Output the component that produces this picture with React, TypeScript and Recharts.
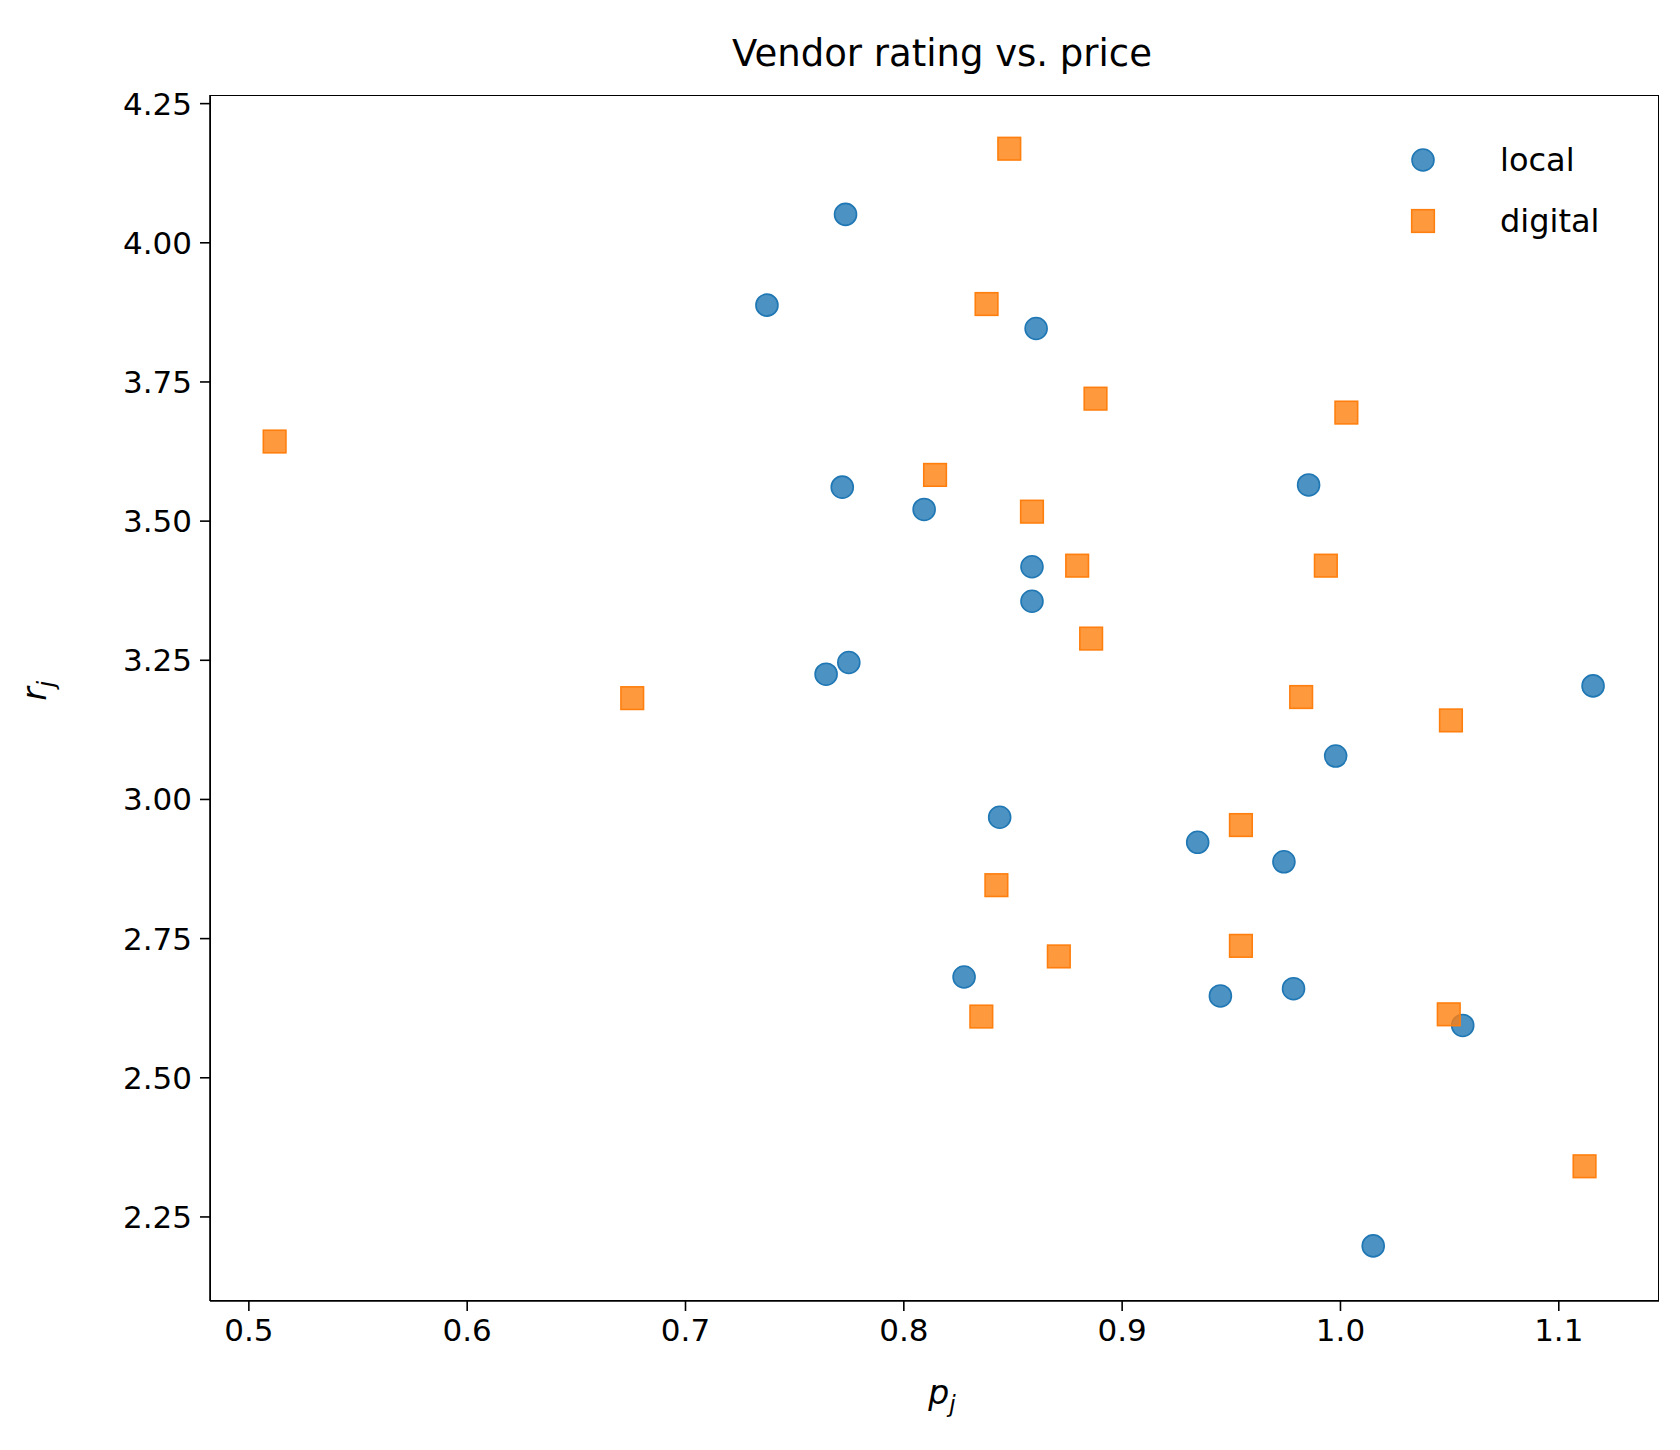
import React from "react";
import { ScatterChart, Scatter, XAxis, YAxis } from "recharts";

const localData = [
  { p: 0.7373, r: 3.888 }, { p: 0.7733, r: 4.051 }, { p: 0.8606, r: 3.846 },
  { p: 0.7718, r: 3.561 }, { p: 0.8093, r: 3.521 }, { p: 0.8587, r: 3.418 },
  { p: 0.8587, r: 3.356 }, { p: 0.7644, r: 3.225 }, { p: 0.7748, r: 3.246 },
  { p: 0.9854, r: 3.565 }, { p: 1.1157, r: 3.204 }, { p: 0.9978, r: 3.078 },
  { p: 0.8439, r: 2.968 }, { p: 0.9346, r: 2.923 }, { p: 0.9741, r: 2.888 },
  { p: 0.8276, r: 2.681 }, { p: 0.945, r: 2.647 }, { p: 0.9785, r: 2.66 },
  { p: 1.056, r: 2.594 }, { p: 1.015, r: 2.198 },
];
const digitalData = [
  { p: 0.8483, r: 4.169 }, { p: 0.5118, r: 3.643 }, { p: 0.8379, r: 3.89 },
  { p: 0.8878, r: 3.72 }, { p: 1.0027, r: 3.695 }, { p: 0.8143, r: 3.583 },
  { p: 0.8587, r: 3.517 }, { p: 0.8794, r: 3.42 }, { p: 0.9933, r: 3.42 },
  { p: 0.8858, r: 3.289 }, { p: 0.6756, r: 3.182 }, { p: 0.982, r: 3.184 },
  { p: 1.0506, r: 3.142 }, { p: 0.9544, r: 2.954 }, { p: 0.8424, r: 2.846 },
  { p: 0.871, r: 2.718 }, { p: 0.9544, r: 2.737 }, { p: 0.8355, r: 2.61 },
  { p: 1.0496, r: 2.614 }, { p: 1.1118, r: 2.341 },
];
const xTicks = [0.5, 0.6, 0.7, 0.8, 0.9, 1.0, 1.1];
const yTicks = [2.25, 2.5, 2.75, 3.0, 3.25, 3.5, 3.75, 4.0, 4.25];

const BLUE = "#1f77b4";
const ORANGE = "#ff7f0e";
const FONT = "DejaVu Sans, sans-serif";

const Circle = (props: any) => (
  <circle cx={props.cx} cy={props.cy} r={11} fill={BLUE} fillOpacity={0.8} stroke={BLUE} strokeWidth={1.6} />
);
const Square = (props: any) => (
  <rect x={props.cx - 11.3} y={props.cy - 11.3} width={22.6} height={22.6} fill={ORANGE} fillOpacity={0.8} stroke={ORANGE} strokeWidth={1.6} />
);

const legendItems = [{ n: "local", s: "c" }, { n: "digital", s: "s" }];

const tickStyle = { fontFamily: FONT, fontSize: 31, fill: "#000" };

export default function App() {
  return (
    <div style={{ position: "relative", width: 1680, height: 1450 }}>
      <div style={{ position: "absolute", left: 0, width: 1868, top: 24, textAlign: "center", fontFamily: FONT, fontSize: 37 }}>
        Vendor rating vs. price
      </div>
      <div style={{ position: "absolute", left: 0, width: 1868, top: 1365, textAlign: "center", fontFamily: FONT, fontSize: 33, fontStyle: "italic" }}>
        p<sub style={{ fontSize: 23 }}>j</sub>
      </div>
      <div style={{ position: "absolute", left: 19, top: 661, fontFamily: FONT, fontSize: 33, fontStyle: "italic", transform: "rotate(-90deg)", transformOrigin: "center" }}>
        r<sub style={{ fontSize: 23 }}>j</sub>
      </div>
      <div style={{ position: "absolute", left: 1395, top: 121, fontFamily: FONT, fontSize: 32, color: "#000", zIndex: 2 }}>
        {legendItems.map((it) => (
          <div key={it.n} style={{ display: "flex", alignItems: "center", height: 61 }}>
            <svg width={40} height={30} style={{ marginRight: 57 }}>
              {it.s === "c" ? (
                <circle cx={20} cy={15} r={11} fill={BLUE} fillOpacity={0.8} stroke={BLUE} strokeWidth={1.6} />
              ) : (
                <rect x={8.7} y={3.7} width={22.6} height={22.6} fill={ORANGE} fillOpacity={0.8} stroke={ORANGE} strokeWidth={1.6} />
              )}
            </svg>
            <span>{it.n}</span>
          </div>
        ))}
      </div>
      <div style={{ position: "absolute", left: 202, top: 87, width: 1449, height: 1206, border: "1.6px solid #000", boxSizing: "border-box", pointerEvents: "none", zIndex: 1 }} />
      <ScatterChart width={1680} height={1450} margin={{ top: 87, right: 29, bottom: 57, left: 102 }}>
        <XAxis type="number" dataKey="p" domain={[0.4822, 1.1459]} ticks={xTicks} allowDataOverflow
          tickFormatter={(v: number) => v.toFixed(1)} tick={tickStyle} tickSize={10} height={100}
          axisLine={{ stroke: "#000", strokeWidth: 1.6 }} tickLine={{ stroke: "#000", strokeWidth: 1.6 }} tickMargin={8} />
        <YAxis type="number" dataKey="r" domain={[2.099, 4.2655]} ticks={yTicks} allowDataOverflow
          tickFormatter={(v: number) => v.toFixed(2)} tick={tickStyle} tickSize={10} width={100}
          axisLine={{ stroke: "#000", strokeWidth: 1.6 }} tickLine={{ stroke: "#000", strokeWidth: 1.6 }} tickMargin={8} />
        <Scatter name="local" data={localData} shape={Circle} isAnimationActive={false} />
        <Scatter name="digital" data={digitalData} shape={Square} isAnimationActive={false} />
      </ScatterChart>
    </div>
  );
}
